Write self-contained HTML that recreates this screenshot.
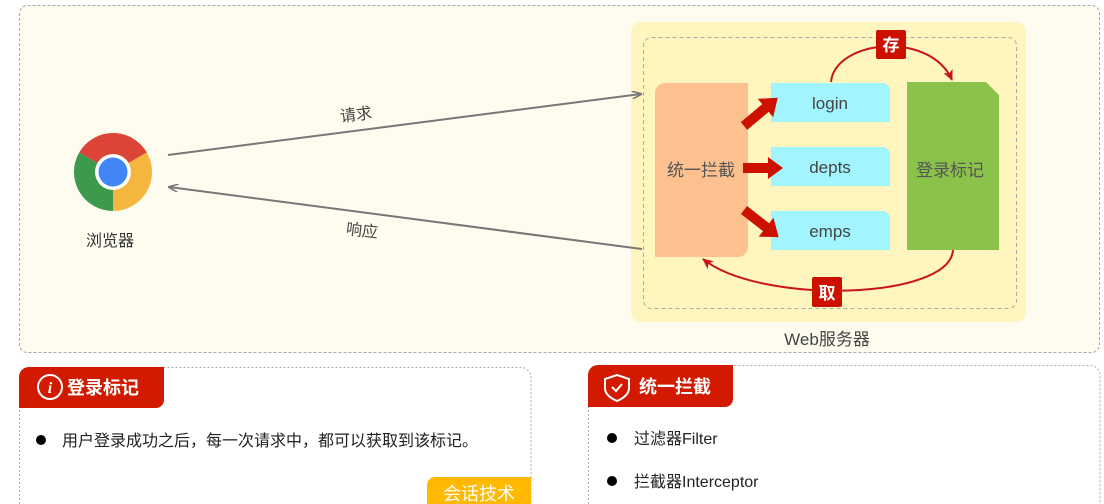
<!DOCTYPE html>
<html><head><meta charset="utf-8"><style>
body{margin:0;width:1104px;height:504px;background:#fff;overflow:hidden;font-family:"Liberation Sans","Noto Sans CJK SC",sans-serif}
</style></head><body>
<svg width="1104" height="504" xmlns="http://www.w3.org/2000/svg" style="position:absolute;left:0;top:0" font-family="Liberation Sans, Noto Sans CJK SC, sans-serif">
<defs>
<marker id="ga" markerWidth="10" markerHeight="8" refX="9" refY="4" orient="auto" markerUnits="userSpaceOnUse"><path d="M0,0 L10,4 L0,8" fill="none" stroke="#777" stroke-width="1.5"/></marker>
<marker id="ra" markerWidth="12" markerHeight="10" refX="10" refY="5" orient="auto" markerUnits="userSpaceOnUse"><path d="M0,0 L11,5 L0,10 L3,5z" fill="#c8141a"/></marker>
</defs>
<rect x="19.5" y="5.5" width="1080" height="347" rx="8" fill="#fdfcef" stroke="#aaa" stroke-dasharray="3,2"/>
<!-- chrome -->
<path d="M113,172 L79.2,152.5 A39,39 0 0 1 146.8,152.5Z" fill="#db4437"/>
<path d="M113,172 L146.8,152.5 A39,39 0 0 1 113,211Z" fill="#f4b63f"/>
<path d="M113,172 L113,211 A39,39 0 0 1 79.2,152.5Z" fill="#3d9a4c"/>
<circle cx="113" cy="172" r="18" fill="#fff"/>
<circle cx="113" cy="172" r="14.5" fill="#4285f4"/>
<text x="110" y="246" font-size="16" fill="#333" text-anchor="middle">浏览器</text>
<!-- server -->
<rect x="631" y="22" width="395" height="300" rx="10" fill="#fff6bf"/>
<rect x="643.5" y="37.5" width="373" height="271" rx="8" fill="none" stroke="#aaa" stroke-dasharray="4,3"/>
<!-- arrows -->
<line x1="168" y1="155" x2="641" y2="94" stroke="#777" stroke-width="2" marker-end="url(#ga)"/>
<line x1="642" y1="249" x2="169" y2="187" stroke="#777" stroke-width="2" marker-end="url(#ga)"/>
<text x="356" y="120" font-size="16" fill="#444" text-anchor="middle" transform="rotate(-7 356 115)">请求</text>
<text x="362" y="236" font-size="16" fill="#444" text-anchor="middle" transform="rotate(7 362 231)">响应</text>
<text x="827" y="345" font-size="17" fill="#444" text-anchor="middle">Web服务器</text>
<path d="M665,83 H748 V247 A10,10 0 0 1 738,257 H655 V93 A10,10 0 0 1 665,83Z" fill="#fdc08f"/>
<text x="701" y="176" font-size="17" fill="#555" text-anchor="middle">统一拦截</text>
<g fill="#a2f4fe">
<path d="M771,83 H885 L890,88 V122 H771Z"/>
<path d="M771,147 H885 L890,152 V186 H771Z"/>
<path d="M771,211 H885 L890,216 V250 H771Z"/>
</g>
<g font-size="17" fill="#444" text-anchor="middle">
<text x="830" y="109">login</text><text x="830" y="173">depts</text><text x="830" y="237">emps</text>
</g>
<path d="M907,82 H986 L999,95 V250 H907Z" fill="#8bc34a"/>
<text x="950" y="176" font-size="17" fill="#555" text-anchor="middle">登录标记</text>
<!-- fat arrows -->
<g fill="#cc1100">
<path d="M743,163 H768 V157 L783,168 L768,179 V173 H743Z"/>
<path d="M0,-5 H28 V-12 L44,0 L28,12 V5 H0Z" transform="translate(744,126) rotate(-40)"/>
<path d="M0,-5 H28 V-12 L44,0 L28,12 V5 H0Z" transform="translate(744,210) rotate(38)"/>
</g>
<!-- curves -->
<path d="M831,82 C835,40 930,30 952,80" fill="none" stroke="#c8141a" stroke-width="2" marker-end="url(#ra)"/>
<path d="M953,250 C950,300 760,305 703,259" fill="none" stroke="#c8141a" stroke-width="2" marker-end="url(#ra)"/>
<rect x="876" y="30" width="30" height="29" rx="2" fill="#cc1100"/>
<text x="891" y="51" font-size="17" font-weight="bold" fill="#fff" text-anchor="middle">存</text>
<rect x="812" y="277" width="30" height="30" rx="2" fill="#cc1100"/>
<text x="827" y="299" font-size="17" font-weight="bold" fill="#fff" text-anchor="middle">取</text>
<!-- bottom left card -->
<path d="M19.5,504 V377 A10,10 0 0 1 29.5,367.5 H521 A10,10 0 0 1 531,377.5 V504" fill="#fff" stroke="#aaa" stroke-dasharray="2,2"/>
<path d="M29,367 H164 V400 A8,8 0 0 1 156,408 H19 V377 A10,10 0 0 1 29,367Z" fill="#d11a00"/>
<circle cx="50" cy="387" r="12" fill="none" stroke="#fff" stroke-width="2"/>
<text x="50" y="393" font-size="16" font-style="italic" font-weight="bold" fill="#fff" text-anchor="middle" font-family="Liberation Serif">i</text>
<text x="67" y="394" font-size="18" font-weight="bold" fill="#fff">登录标记</text>
<circle cx="41" cy="440" r="5" fill="#000"/>
<text x="62" y="446" font-size="16" fill="#222">用户登录成功之后，每一次请求中，都可以获取到该标记。</text>
<path d="M435,477 H531 V504 H427 V485 A8,8 0 0 1 435,477Z" fill="#ffb900"/>
<text x="479" y="500" font-size="18" fill="#fff" text-anchor="middle">会话技术</text>
<!-- bottom right card -->
<path d="M588.5,504 V375 A10,10 0 0 1 598.5,365.5 H1090 A10,10 0 0 1 1100,375.5 V504" fill="#fff" stroke="#aaa" stroke-dasharray="2,2"/>
<path d="M598,365 H733 V399 A8,8 0 0 1 725,407 H588 V375 A10,10 0 0 1 598,365Z" fill="#d11a00"/>
<path d="M617,375 L629,379 V388 C629,394 624,398 617,401 C610,398 605,394 605,388 V379Z" fill="none" stroke="#fff" stroke-width="2"/>
<path d="M612,387 L616,391 L622,384" fill="none" stroke="#fff" stroke-width="2"/>
<text x="639" y="393" font-size="18" font-weight="bold" fill="#fff">统一拦截</text>
<circle cx="612" cy="438" r="5" fill="#000"/>
<text x="634" y="444" font-size="16" fill="#222">过滤器Filter</text>
<circle cx="612" cy="481" r="5" fill="#000"/>
<text x="634" y="487" font-size="16" fill="#222">拦截器Interceptor</text>
</svg>
</body></html>
